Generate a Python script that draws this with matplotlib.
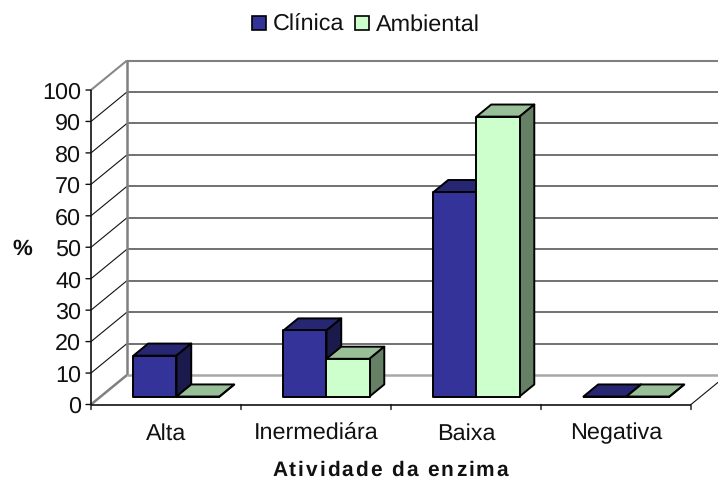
import matplotlib
matplotlib.use('Agg')
import matplotlib.pyplot as plt
from matplotlib.patches import Polygon, Rectangle

plt.rcParams['font.family'] = ['Liberation Sans', 'DejaVu Sans']
plt.rcParams['text.hinting'] = 'none'

categories = ['Alta', 'Inermediára', 'Baixa', 'Negativa']
clinica = [13, 21, 65, 0]
ambiental = [0, 12, 89, 0]
yticks = list(range(0, 101, 10))
xlabel = 'Atividade da enzima'
series_names = ['Clínica', 'Ambiental']

W, H = 718, 481
fig = plt.figure(figsize=(W / 100, H / 100), dpi=100, facecolor='w')
# front plane of the chart box
ax = fig.add_axes([91 / W, 1 - 405.5 / H, 600 / W, 314.5 / H])
ax.set_xlim(0, 4)
ax.set_ylim(0, 100)
ax.axis('off')

# shift of the back wall in data units
DX = 36 / 150
DY = 29.5 / 3.145
BAR_W = 0.287
D0, D1 = 0.27, 0.68
FS = 16.8


def proj(x, y, d):
    return (x + d * DX, y + d * DY)


def line(xs, ys, **kw):
    ax.plot(xs, ys, clip_on=False, solid_capstyle='butt', **kw)


# walls and gridlines
for v in yticks[1:-1]:
    bx, by = proj(0, v, 1)
    line([0, bx], [v, by], color='#111111', lw=0.8, zorder=1)
    line([bx, 4.2], [by, by], color='#666666', lw=1.3, zorder=1)
bx, by = proj(0, 100, 1)
line([0, bx], [100, by], color='#888888', lw=1.5, zorder=1)
line([bx, 4.2], [by, by], color='#808080', lw=1.5, zorder=1)
bx0, by0 = proj(0, 0, 1)
line([bx0, bx0], [by0, by], color='#808080', lw=1.8, zorder=1)
line([0, bx0], [0, by0], color='#808080', lw=1.8, zorder=1)
line([bx0, 4.2], [by0, by0], color='#a8a8a8', lw=1.8, zorder=1)
ex, ey = proj(4, 0, 1)
line([4, ex], [0, ey], color='#111111', lw=0.8, zorder=1)

# axis lines and ticks
line([0, 0], [0, 100], color='#111111', lw=1.2, zorder=2)
line([0, 4], [0, 0], color='#111111', lw=1.2, zorder=2)
for v in yticks:
    ax.annotate('', xy=(0, v), xytext=(-5, 0), textcoords='offset pixels', annotation_clip=False,
                arrowprops=dict(arrowstyle='-', color='#111111', lw=1, shrinkA=0, shrinkB=0))
    ax.annotate(str(v), xy=(0, v), xytext=(-7, -1.2), textcoords='offset points', ha='right', va='center',
                fontsize=FS, color='#111111', annotation_clip=False)
for i in range(5):
    ax.annotate('', xy=(i, 0), xytext=(0, -5), textcoords='offset pixels', annotation_clip=False,
                arrowprops=dict(arrowstyle='-', color='#111111', lw=1, shrinkA=0, shrinkB=0))


def bar3d(x, v, front, top, side):
    x1 = x + BAR_W
    faces = [
        ([proj(x, v, D0), proj(x1, v, D0), proj(x1, v, D1), proj(x, v, D1)], top),
        ([proj(x1, 0, D0), proj(x1, 0, D1), proj(x1, v, D1), proj(x1, v, D0)], side),
        ([proj(x, 0, D0), proj(x1, 0, D0), proj(x1, v, D0), proj(x, v, D0)], front),
    ]
    for pts, c in faces:
        ax.add_patch(Polygon(pts, closed=True, facecolor=c, edgecolor='black', lw=1.4,
                             joinstyle='round', clip_on=False, zorder=3))


# bars, each group centred in its category
for i, cat in enumerate(categories):
    bar3d(i + 0.505 - BAR_W, clinica[i], '#333399', '#262673', '#1a1a4d')
    bar3d(i + 0.505, ambiental[i], '#ccffcc', '#99bf99', '#668066')
    ax.annotate(cat, xy=(i + 0.5, 0), xytext=(0, -24.5), textcoords='offset points', ha='center', va='baseline',
                fontsize=FS, color='#111111', annotation_clip=False)

fig.text(22 / W, 1 - 249 / H, '%', fontsize=16, fontweight='bold', ha='center', va='center', color='#111111')

# axis title is letter-spaced, so place it one character at a time
renderer = fig.canvas.get_renderer()
left, right, baseline = 272, 508, 476
probe = fig.text(0, 0, xlabel, fontsize=15, fontweight='bold')
plain_w = probe.get_window_extent(renderer).width
spacing = (right - left - plain_w) / (len(xlabel) - 1)
for k, ch in enumerate(xlabel):
    probe.set_text(xlabel[:k + 1] + '.')
    w_with = probe.get_window_extent(renderer).width
    probe.set_text(ch + '.')
    w_ch = probe.get_window_extent(renderer).width
    fig.text((left + w_with - w_ch + k * spacing) / W, 1 - baseline / H, ch, fontsize=15, fontweight='bold',
             ha='left', va='baseline', color='#111111')
probe.remove()

# legend keys and names on a common baseline
for name, color, xkey, xtext in zip(series_names, ['#333399', '#ccffcc'], [252, 355], [273, 376]):
    fig.add_artist(Rectangle((xkey / W, 1 - 31 / H), 14 / W, 14 / H, transform=fig.transFigure,
                             facecolor=color, edgecolor='black', lw=1.2))
    fig.text(xtext / W, 1 - 30.5 / H, name, fontsize=FS, ha='left', va='baseline', color='#111111')

fig.savefig('out.png', dpi=100)
